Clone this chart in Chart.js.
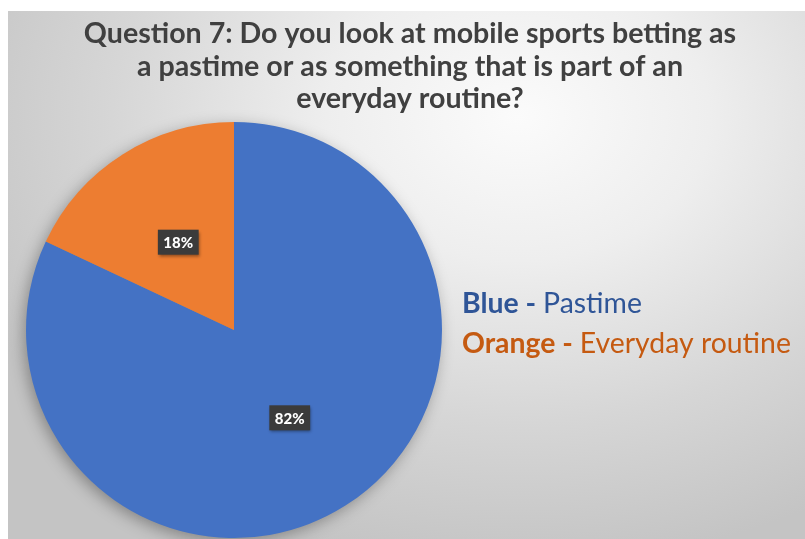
<!DOCTYPE html>
<html lang="en">
  <head>
    <meta charset="UTF-8" />
    <title>Question 7</title>
    <style>
      html, body {
        margin: 0;
        padding: 0;
        background: #ffffff;
        width: 805px;
        height: 539px;
        overflow: hidden;
      }
      .panel {
        position: absolute;
        left: 8px;
        top: 11px;
        width: 797px;
        height: 528px;
        background: radial-gradient(ellipse 75% 85% at 64% 20%, #fbfbfb 0%, #eeeeee 32%, #d6d6d6 68%, #c4c4c4 100%);
      }
      #chart {
        position: absolute;
        left: 0;
        top: 0;
      }
    </style>
  </head>
  <body>
    <div class="panel"></div>
    <canvas id="chart" width="805" height="539"></canvas>

    <script src="https://cdn.jsdelivr.net/npm/chart.js@4.4.1/dist/chart.umd.min.js"></script>
    <script>
      var titleLines = [
        "Question 7: Do you look at mobile sports betting as",
        "a pastime or as something that is part of an",
        "everyday routine?"
      ];
      var colorNames = ["Blue", "Orange"];
      var answers = ["Pastime", "Everyday routine"];
      var shares = [82, 18];
      var sliceColors = ["#4472C4", "#ED7D31"];
      var legendColors = ["#2F5597", "#C55A11"];

      // soft shadow under the pie, then the dark percentage boxes
      var pieExtras = {
        id: "pieExtras",
        beforeDatasetsDraw: function (chart) {
          var arc = chart.getDatasetMeta(0).data[0];
          var ctx = chart.ctx;
          ctx.save();
          ctx.shadowColor = "rgba(0,0,0,0.35)";
          ctx.shadowBlur = 16;
          ctx.shadowOffsetX = -3;
          ctx.shadowOffsetY = 4;
          ctx.fillStyle = "#8a8a8a";
          ctx.beginPath();
          ctx.arc(arc.x, arc.y, arc.outerRadius - 1, 0, Math.PI * 2);
          ctx.fill();
          ctx.restore();
        },
        afterDatasetsDraw: function (chart) {
          var ctx = chart.ctx;
          var meta = chart.getDatasetMeta(0);
          ctx.save();
          ctx.font = "900 15px Lato";
          ctx.textAlign = "center";
          ctx.textBaseline = "middle";
          meta.data.forEach(function (el, i) {
            var p = el.tooltipPosition();
            var txt = shares[i] + "%";
            var w = ctx.measureText(txt).width + 11;
            var h = 25;
            ctx.shadowColor = "rgba(0,0,0,0.4)";
            ctx.shadowBlur = 3;
            ctx.shadowOffsetX = 1;
            ctx.shadowOffsetY = 2;
            ctx.fillStyle = "#3b3b3b";
            ctx.fillRect(p.x - w / 2, p.y - h / 2, w, h);
            ctx.shadowColor = "transparent";
            ctx.fillStyle = "#ffffff";
            ctx.fillText(txt, p.x, p.y + 1);
          });
          ctx.restore();
        },
        afterDraw: function (chart) {
          var ctx = chart.ctx;
          ctx.save();
          // title
          ctx.fillStyle = "#404040";
          ctx.font = "bold 28.6px Lato";
          ctx.textAlign = "center";
          ctx.textBaseline = "alphabetic";
          titleLines.forEach(function (line, i) {
            ctx.fillText(line, 410, 43 + i * 32.5);
          });
          // legend text
          ctx.textAlign = "left";
          colorNames.forEach(function (name, i) {
            var x = 462;
            var y = 313 + i * 40;
            ctx.fillStyle = legendColors[i];
            ctx.font = "bold 28.4px Lato";
            var bold = name + " - ";
            ctx.fillText(bold, x, y);
            x += ctx.measureText(bold).width;
            ctx.font = "28.4px Lato";
            ctx.fillText(answers[i], x, y);
          });
          ctx.restore();
        }
      };

      new Chart(document.getElementById("chart"), {
        type: "pie",
        data: {
          labels: answers,
          datasets: [
            {
              data: shares,
              backgroundColor: sliceColors,
              borderWidth: 0
            }
          ]
        },
        options: {
          responsive: false,
          animation: false,
          layout: {
            padding: { left: 26, top: 122, right: 363, bottom: 1 }
          },
          plugins: {
            legend: { display: false },
            tooltip: { enabled: false },
            title: { display: false }
          }
        },
        plugins: [pieExtras]
      });
    </script>
  </body>
</html>
